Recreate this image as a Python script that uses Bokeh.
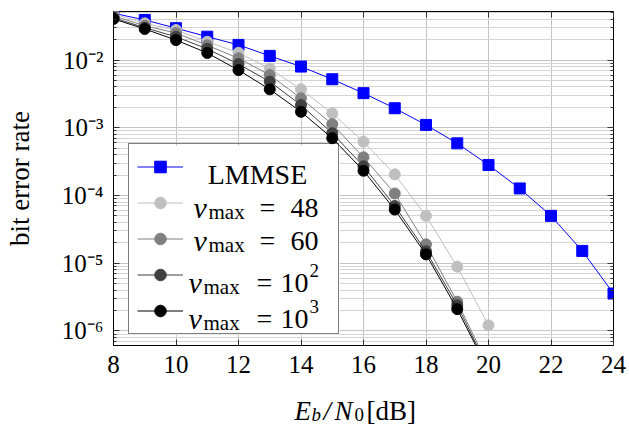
from bokeh.plotting import figure
from bokeh.layouts import column
from bokeh.models import (FixedTicker, LogAxis, LinearAxis, Legend, LegendItem,
                          Label, Range1d, BoxAnnotation)
from bokeh.core.properties import value
from bokeh.embed import file_html
from bokeh.resources import INLINE

# ---- data ----
snr_lmmse = [8, 9, 10, 11, 12, 13, 14, 15, 16, 17, 18, 19, 20, 21, 22, 23, 24]
ber_lmmse = [0.049, 0.039, 0.0295, 0.0221, 0.0167, 0.0115, 0.0080, 0.0052,
             0.00324, 0.00194, 0.00110, 0.000588, 0.000282, 0.000127,
             5.0e-5, 1.52e-5, 3.57e-6]

snr_v = [8, 9, 10, 11, 12, 13, 14, 15, 16, 17, 18, 19, 20]
ber_v48 = [0.048, 0.0348, 0.0277, 0.0186, 0.0128, 0.0075, 0.00369, 0.00163,
           0.000622, 0.000205, 5.0e-5, 8.9e-6, 1.21e-6]
ber_v60 = [0.045, 0.032, 0.025, 0.0165, 0.0106, 0.0060, 0.00272, 0.00113,
           0.000366, 0.000107, 1.9e-5, 2.7e-6, 3.0e-7]
ber_v100 = [0.042, 0.030, 0.022, 0.0146, 0.0087, 0.0048, 0.00216, 0.00083,
            0.00027, 7.0e-5, 1.5e-5, 2.4e-6, 2.7e-7]
ber_v1000 = [0.0404, 0.0287, 0.0197, 0.0127, 0.0071, 0.00369, 0.00172, 0.0007,
             0.000232, 6.2e-5, 1.35e-5, 2.1e-6, 2.6e-7]

x_ticks = [8, 10, 12, 14, 16, 18, 20, 22, 24]
y_ticks = [1e-6, 1e-5, 1e-4, 1e-3, 1e-2]
y_tick_labels = ["10⁻⁶", "10⁻⁵", "10⁻⁴", "10⁻³", "10⁻²"]
series_names = ["LMMSE", "48", "60", "10", "10"]
series_powers = ["", "", "", "2", "3"]

FONT = "Liberation Serif"

y_minor = [m * 10.0 ** e for e in range(-7, -1) for m in range(2, 10)]
xticker = FixedTicker(ticks=x_ticks)
yticker = FixedTicker(ticks=y_ticks, minor_ticks=y_minor)

p = figure(frame_width=500, frame_height=334,
           x_range=Range1d(8, 24), y_range=Range1d(6.1e-7, 0.052),
           y_axis_type="log", output_backend="svg", toolbar_location=None,
           min_border_left=113, min_border_right=16, min_border_top=11,
           min_border_bottom=50)
p.outline_line_color = "black"
p.outline_line_width = 1
p.background_fill_color = "white"

# grids
p.xgrid.ticker = xticker
p.ygrid.ticker = yticker
p.xgrid.grid_line_color = "#c4c4c4"
p.ygrid.grid_line_color = "#c4c4c4"
p.ygrid.minor_grid_line_color = "#d4d4d4"

# axes
for ax in (p.xaxis[0], p.yaxis[0]):
    ax.axis_line_color = "black"
    ax.major_tick_in = 6
    ax.major_tick_out = 0
    ax.minor_tick_in = 3
    ax.minor_tick_out = 0
    ax.major_tick_line_color = "#333333"
    ax.minor_tick_line_color = "#333333"
    ax.major_label_text_font = FONT
    ax.major_label_text_font_size = "25px"
    ax.major_label_text_color = "black"
p.xaxis.ticker = xticker
p.xaxis.minor_tick_line_color = None
p.xaxis.major_label_standoff = 10
p.yaxis.ticker = yticker
p.yaxis.major_label_overrides = {t: l for t, l in zip(y_ticks, y_tick_labels)}
p.yaxis.major_label_standoff = 10
p.yaxis.axis_label = "bit error rate"
p.yaxis.axis_label_text_font = FONT
p.yaxis.axis_label_text_font_size = "27px"
p.yaxis.axis_label_text_font_style = "normal"
p.yaxis.axis_label_text_color = "black"
p.yaxis.axis_label_standoff = 24

# mirrored ticks (top / right), no labels
top = LinearAxis(ticker=xticker, major_tick_in=6, major_tick_out=0,
                 minor_tick_line_color=None, axis_line_color=None,
                 major_tick_line_color="#333333",
                 major_label_overrides={t: "" for t in x_ticks},
                 major_label_standoff=0)
right = LogAxis(ticker=yticker, major_tick_in=6, major_tick_out=0,
                minor_tick_in=3, minor_tick_out=0, axis_line_color=None,
                major_tick_line_color="#333333", minor_tick_line_color="#333333",
                major_label_overrides={t: "" for t in y_ticks},
                major_label_standoff=0)
p.add_layout(top, "above")
p.add_layout(right, "right")

# series
renderers = []
l0 = p.line(snr_lmmse, ber_lmmse, line_color="#0000ff", line_width=1)
s0 = p.scatter(snr_lmmse, ber_lmmse, marker="square", size=11,
               fill_color="#0000ff", line_color="#0000ff")
renderers.append([l0, s0])
gray_series = [(ber_v48, "#bfbfbf"), (ber_v60, "#808080"),
               (ber_v100, "#404040"), (ber_v1000, "#000000")]
for ys, c in gray_series:
    ln = p.line(snr_v, ys, line_color=c, line_width=1)
    sc = p.scatter(snr_v, ys, marker="circle", size=11, fill_color=c,
                   line_color=c)
    renderers.append([ln, sc])

# white panel behind the legend (screen px from the frame's bottom-left)
p.add_layout(BoxAnnotation(left=15, right=226, bottom=11, top=200,
                           left_units="screen", right_units="screen",
                           bottom_units="screen", top_units="screen",
                           fill_color="white", fill_alpha=1.0,
                           line_color=None, level="annotation"))

# legend box with glyphs; its texts are typeset below with styled pieces
items = [LegendItem(label=" ", renderers=r) for r in renderers]
legend = Legend(items=items, location=(15, 11),
                label_text_font=FONT, label_text_font_size="20px",
                glyph_width=46, glyph_height=29, label_height=29,
                spacing=7, padding=8, margin=0, label_standoff=10,
                label_width=137,
                border_line_color="black", border_line_width=1,
                background_fill_alpha=0)
p.add_layout(legend)


def put(txt, x, y, size, style="normal", align="left"):
    p.add_layout(Label(x=x, y=y, x_units="screen", y_units="screen",
                       text=txt, text_font=FONT, text_font_style=style,
                       text_font_size=size, text_baseline="alphabetic",
                       text_align=align, text_color="black", level="overlay"))


# legend texts (positions in px from the frame's bottom-left corner)
put(series_names[0], 144, 171, "28px", align="center")
row_layout = [  # (baseline, v x, '=' centre, number x)
    (138, 80, 154, 177),
    (105, 80, 154, 177),
    (63, 75, 151, 167),
    (27, 75, 151, 167),
]
for (yb, xv, xeq, xn), name, pw in zip(row_layout, series_names[1:], series_powers[1:]):
    put("v", xv, yb, "30px", style="italic")
    put("max", xv + 15, yb - 4, "21px")
    put("=", xeq, yb, "28px", align="center")
    put(name, xn, yb, "28px")
    if pw:
        put(pw, xn + 29, yb + 12, "19px")

# x-axis label strip: E_b / N_0 [dB]; its frame is aligned with the main
# plot's frame, so its x range is expressed in page pixels of that frame
p2 = figure(width=629, height=31, x_range=Range1d(113, 613), y_range=Range1d(0, 31),
            output_backend="svg", toolbar_location=None,
            x_axis_location=None, y_axis_location=None,
            min_border=0, min_border_left=0, min_border_right=0,
            min_border_top=0, min_border_bottom=0)
p2.title = None
p2.grid.visible = False
p2.outline_line_color = None
label_pieces = [("E", 294, 16, "27px", "italic"),
                ("b", 311, 12.5, "19px", "italic"),
                ("/", 323, 16, "27px", "italic"),
                ("N", 334, 16, "27px", "italic"),
                ("0", 354, 12.5, "19px", "normal"),
                ("[dB]", 366, 16, "27px", "normal")]
for txt, xx, yy, size, style in label_pieces:
    p2.text(x=[xx], y=[yy], text=[txt], text_font=value(FONT),
            text_font_size=size, text_font_style=style,
            text_baseline="middle", text_align="left", text_color="black")

layout = column(p, p2, spacing=0)
open("out.html", "w").write(file_html(layout, INLINE))
